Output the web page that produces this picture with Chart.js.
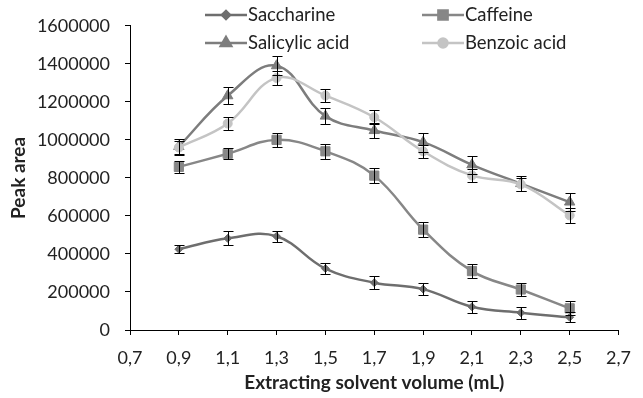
<!DOCTYPE html>
<html>
<head>
<meta charset="utf-8">
<script src="https://cdn.jsdelivr.net/npm/chart.js"></script>
<style>
  html, body { margin: 0; padding: 0; background: #fff; }
  #wrap { width: 643px; height: 398px; }
</style>
</head>
<body>
<div id="wrap"><canvas id="chart" width="643" height="398"></canvas></div>
<script>
// extracting solvent volume (mL) and peak areas
const volumes = [0.9, 1.1, 1.3, 1.5, 1.7, 1.9, 2.1, 2.3, 2.5];

const saccharine    = [425000, 482000, 493000, 323000, 249000, 215000, 122000, 91000, 67000];
const saccharineErr = [22000, 37000, 30000, 31000, 34000, 31000, 31000, 31000, 27000];

const caffeine    = [858000, 927000, 1000000, 940000, 812000, 528000, 310000, 213000, 114000];
const caffeineErr = [30000, 30000, 38000, 38000, 38000, 38000, 39000, 35000, 37000];

const salicylic    = [965000, 1232000, 1390000, 1125000, 1049000, 988000, 869000, 770000, 673000];
const salicylicErr = [42000, 44000, 50000, 44000, 40000, 50000, 48000, 40000, 46000];

const benzoic    = [960000, 1086000, 1326000, 1233000, 1119000, 940000, 813000, 766000, 603000];
const benzoicErr = [35000, 35000, 35000, 32000, 37000, 35000, 36000, 35000, 38000];

const FONT = "Lato, 'Open Sans', sans-serif";

function series(label, values, errors, color, pointStyle, radius, order) {
    return {
        label: label,
        data: volumes.map((v, i) => ({ x: v, y: values[i] })),
        errors: errors,
        borderColor: color,
        backgroundColor: color,
        pointBackgroundColor: color,
        pointBorderColor: color,
        pointBorderWidth: 1,
        pointStyle: pointStyle,
        pointRadius: radius,
        borderWidth: 2.5,
        tension: 0.4,
        order: order
    };
}

// vertical error bars with caps, drawn through the chart's own scales
const errorBars = {
    id: 'errorBars',
    afterDatasetsDraw(chart) {
        const ctx = chart.ctx;
        const xs = chart.scales.x, ys = chart.scales.y;
        ctx.save();
        ctx.strokeStyle = '#000';
        ctx.lineWidth = 1;
        chart.data.datasets.forEach(ds => {
            ds.data.forEach((p, i) => {
                const e = ds.errors[i];
                const x = Math.round(xs.getPixelForValue(p.x)) + 0.5;
                const top = Math.round(ys.getPixelForValue(p.y + e)) + 0.5;
                const bot = Math.round(ys.getPixelForValue(p.y - e)) + 0.5;
                ctx.beginPath();
                ctx.moveTo(x, top); ctx.lineTo(x, bot);
                ctx.moveTo(x - 5, top); ctx.lineTo(x + 5, top);
                ctx.moveTo(x - 5, bot); ctx.lineTo(x + 5, bot);
                ctx.stroke();
            });
        });
        ctx.restore();
    }
};

// two-column legend like the original figure
const legendCols = [205, 422];
const legendRows = [15, 43];
const gridLegend = {
    id: 'gridLegend',
    afterDraw(chart) {
        const ctx = chart.ctx;
        ctx.save();
        chart.data.datasets.forEach((ds, i) => {
            const x0 = legendCols[i % 2];
            const y = legendRows[Math.floor(i / 2)];
            ctx.strokeStyle = ds.borderColor;
            ctx.lineWidth = ds.borderWidth;
            ctx.beginPath();
            ctx.moveTo(x0, y);
            ctx.lineTo(x0 + 42, y);
            ctx.stroke();
            ctx.fillStyle = ds.borderColor;
            Chart.helpers.drawPoint(ctx, {
                pointStyle: ds.pointStyle,
                radius: ds.pointRadius,
                borderWidth: 1
            }, x0 + 21, y);
            ctx.fillStyle = '#222';
            ctx.font = '18.5px ' + FONT;
            ctx.textAlign = 'left';
            ctx.textBaseline = 'middle';
            ctx.fillText(ds.label, x0 + 43, y);
        });
        ctx.restore();
    }
};

new Chart(document.getElementById('chart').getContext('2d'), {
    type: 'line',
    data: {
        datasets: [
            series('Saccharine', saccharine, saccharineErr, '#6e6e6e', 'rectRot', 4, 3),
            series('Caffeine', caffeine, caffeineErr, '#878787', 'rect', 6.5, 2),
            series('Salicylic acid', salicylic, salicylicErr, '#7d7d7d', 'triangle', 6, 1),
            series('Benzoic acid', benzoic, benzoicErr, '#c4c4c4', 'circle', 4.5, 0)
        ]
    },
    options: {
        responsive: false,
        animation: false,
        layout: { padding: { left: 0, right: 13, top: 25, bottom: 0 } },
        plugins: {
            legend: { display: false },
            tooltip: { enabled: false }
        },
        scales: {
            x: {
                type: 'linear',
                min: 0.7,
                max: 2.7,
                border: { color: '#000', width: 1 },
                grid: { drawOnChartArea: false, drawTicks: true, tickLength: 5, tickColor: '#000' },
                ticks: {
                    stepSize: 0.2,
                    padding: 12,
                    color: '#222',
                    font: { family: FONT, size: 18 },
                    callback: v => v.toFixed(1).replace('.', ',')
                },
                title: {
                    display: true,
                    text: 'Extracting solvent volume (mL)',
                    color: '#222',
                    font: { family: FONT, size: 19, weight: 'bold' },
                    padding: { top: 0, bottom: 4 }
                },
                afterFit: s => { s.height = 68; }
            },
            y: {
                min: 0,
                max: 1600000,
                border: { color: '#000', width: 1 },
                grid: { drawOnChartArea: false, drawTicks: true, tickLength: 5, tickColor: '#000' },
                ticks: {
                    stepSize: 200000,
                    padding: 15,
                    color: '#222',
                    font: { family: FONT, size: 18 },
                    callback: v => String(v)
                },
                title: {
                    display: true,
                    text: 'Peak area',
                    color: '#222',
                    font: { family: FONT, size: 19, weight: 'bold' },
                    padding: { top: 7, bottom: 0 }
                },
                afterFit: s => { s.width = 130; }
            }
        }
    },
    plugins: [errorBars, gridLegend]
});
</script>
</body>
</html>
